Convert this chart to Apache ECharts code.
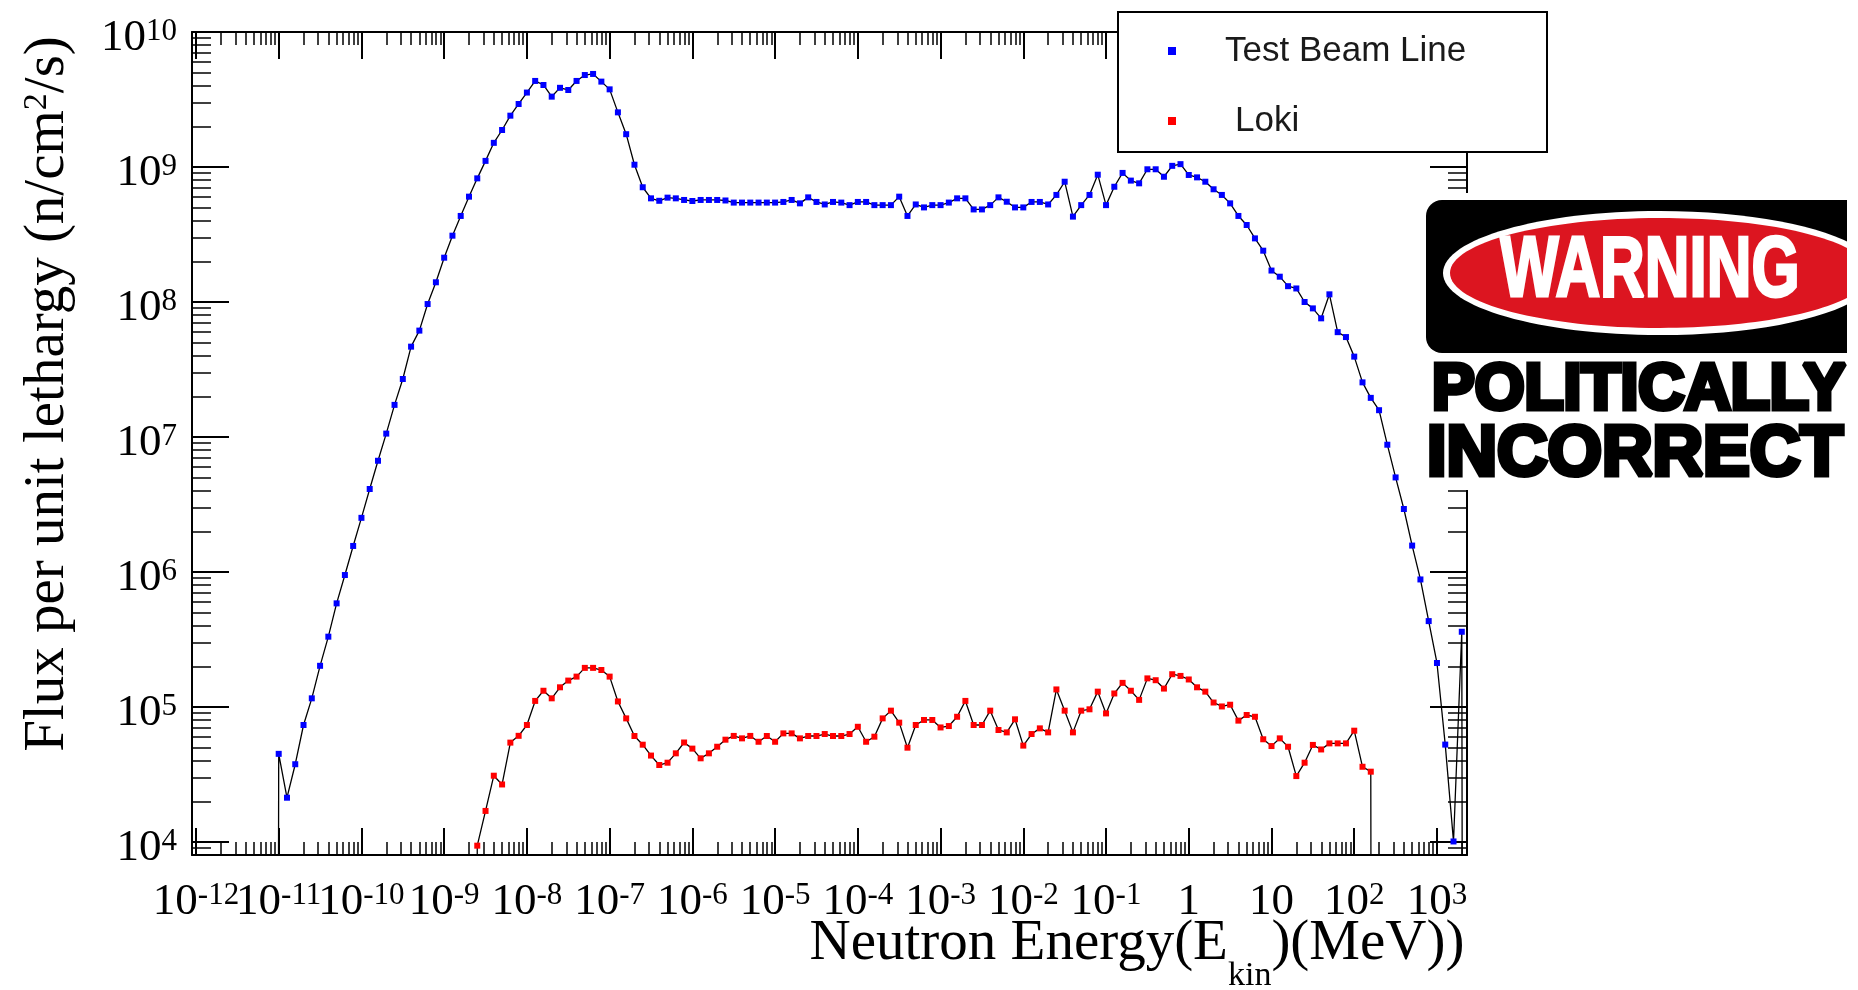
<!DOCTYPE html>
<html>
<head>
<meta charset="utf-8">
<title>Neutron flux per unit lethargy</title>
<script src="https://cdn.jsdelivr.net/npm/echarts@6/dist/echarts.min.js"></script>
<style>
  html, body { margin: 0; padding: 0; background: #ffffff; }
  #chart { width: 1858px; height: 990px; }
</style>
</head>
<body>
<div id="chart"></div>
<script>
// Energy bins as log10(E / MeV), a tenth of a decade apart
const energyExponents = [
  -11.1, -11.0, -10.9, -10.8, -10.7, -10.6, -10.5, -10.4, -10.3, -10.2,
  -10.1, -10.0, -9.9, -9.8, -9.7, -9.6, -9.5, -9.4, -9.3, -9.2,
  -9.1, -9.0, -8.9, -8.8, -8.7, -8.6, -8.5, -8.4, -8.3, -8.2,
  -8.1, -8.0, -7.9, -7.8, -7.7, -7.6, -7.5, -7.4, -7.3, -7.2,
  -7.1, -7.0, -6.9, -6.8, -6.7, -6.6, -6.5, -6.4, -6.3, -6.2,
  -6.1, -6.0, -5.9, -5.8, -5.7, -5.6, -5.5, -5.4, -5.3, -5.2,
  -5.1, -5.0, -4.9, -4.8, -4.7, -4.6, -4.5, -4.4, -4.3, -4.2,
  -4.1, -4.0, -3.9, -3.8, -3.7, -3.6, -3.5, -3.4, -3.3, -3.2,
  -3.1, -3.0, -2.9, -2.8, -2.7, -2.6, -2.5, -2.4, -2.3, -2.2,
  -2.1, -2.0, -1.9, -1.8, -1.7, -1.6, -1.5, -1.4, -1.3, -1.2,
  -1.1, -1.0, -0.9, -0.8, -0.7, -0.6, -0.5, -0.4, -0.3, -0.2,
  -0.1, 0.0, 0.1, 0.2, 0.3, 0.4, 0.5, 0.6, 0.7, 0.8,
  0.9, 1.0, 1.1, 1.2, 1.3, 1.4, 1.5, 1.6, 1.7, 1.8,
  1.9, 2.0, 2.1, 2.2, 2.3, 2.4, 2.5, 2.6, 2.7, 2.8,
  2.9, 3.0, 3.1, 3.2, 3.3, 3.4
];

// Flux per unit lethargy (n/cm^2/s); 0 = empty bin, null = not scored
const testBeamFlux = [
  0, 4.5e4, 2.13e4, 3.77e4, 7.36e4, 1.16e5, 2.02e5, 3.32e5, 5.86e5, 9.5e5,
  1.56e6, 2.52e6, 4.12e6, 6.67e6, 1.06e7, 1.73e7, 2.69e7, 4.67e7, 6.14e7, 9.66e7,
  1.40e8, 2.13e8, 3.10e8, 4.34e8, 6.03e8, 8.24e8, 1.11e9, 1.51e9, 1.88e9, 2.40e9,
  2.93e9, 3.56e9, 4.34e9, 4.05e9, 3.32e9, 3.86e9, 3.72e9, 4.34e9, 4.80e9, 4.89e9,
  4.29e9, 3.76e9, 2.54e9, 1.75e9, 1.04e9, 7.08e8, 5.86e8, 5.62e8, 5.93e8, 5.86e8,
  5.70e8, 5.60e8, 5.70e8, 5.70e8, 5.70e8, 5.65e8, 5.45e8, 5.45e8, 5.45e8, 5.45e8,
  5.45e8, 5.45e8, 5.51e8, 5.70e8, 5.38e8, 5.96e8, 5.51e8, 5.28e8, 5.51e8, 5.45e8,
  5.22e8, 5.51e8, 5.51e8, 5.22e8, 5.22e8, 5.22e8, 6.03e8, 4.34e8, 5.28e8, 5.02e8,
  5.22e8, 5.22e8, 5.45e8, 5.86e8, 5.86e8, 4.85e8, 4.85e8, 5.22e8, 5.96e8, 5.53e8,
  5.02e8, 5.02e8, 5.51e8, 5.51e8, 5.28e8, 6.21e8, 7.78e8, 4.29e8, 5.22e8, 6.21e8,
  8.77e8, 5.22e8, 7.14e8, 9.04e8, 7.93e8, 7.57e8, 9.62e8, 9.62e8, 8.47e8, 1.02e9,
  1.05e9, 8.73e8, 8.38e8, 7.78e8, 6.84e8, 6.21e8, 5.38e8, 4.34e8, 3.72e8, 2.96e8,
  2.40e8, 1.71e8, 1.54e8, 1.31e8, 1.26e8, 1.00e8, 8.97e7, 7.57e7, 1.14e8, 5.98e7,
  5.50e7, 3.94e7, 2.54e7, 1.95e7, 1.58e7, 8.77e6, 5.02e6, 2.93e6, 1.57e6, 8.81e5,
  4.33e5, 2.12e5, 5.27e4, 1.01e4, 3.61e5, 0
];

const lokiFlux = [
  null, null, null, null, null, null, null, null, null, null,
  null, null, null, null, null, null, null, null, null, null,
  null, null, null, null, 0, 9.4e3, 1.70e4, 3.10e4, 2.67e4, 5.45e4,
  6.12e4, 7.36e4, 1.11e5, 1.32e5, 1.16e5, 1.40e5, 1.57e5, 1.68e5, 1.95e5, 1.95e5,
  1.88e5, 1.68e5, 1.10e5, 8.24e4, 6.10e4, 5.26e4, 4.37e4, 3.72e4, 3.87e4, 4.54e4,
  5.46e4, 4.92e4, 4.17e4, 4.54e4, 5.08e4, 5.73e4, 6.11e4, 5.86e4, 6.11e4, 5.53e4,
  6.10e4, 5.53e4, 6.38e4, 6.38e4, 5.86e4, 6.10e4, 6.10e4, 6.31e4, 6.10e4, 6.10e4,
  6.31e4, 7.14e4, 5.53e4, 6.03e4, 8.24e4, 9.40e4, 7.66e4, 5.00e4, 7.36e4, 8.02e4,
  8.02e4, 7.06e4, 7.23e4, 8.47e4, 1.11e5, 7.36e4, 7.36e4, 9.40e4, 6.76e4, 6.49e4,
  8.11e4, 5.18e4, 6.31e4, 6.95e4, 6.49e4, 1.35e5, 9.40e4, 6.49e4, 9.40e4, 9.62e4,
  1.30e5, 8.97e4, 1.26e5, 1.51e5, 1.32e5, 1.13e5, 1.63e5, 1.58e5, 1.37e5, 1.75e5,
  1.70e5, 1.60e5, 1.40e5, 1.30e5, 1.08e5, 1.01e5, 1.04e5, 7.93e4, 8.73e4, 8.47e4,
  5.77e4, 5.14e4, 5.86e4, 5.08e4, 3.08e4, 3.87e4, 5.24e4, 4.85e4, 5.38e4, 5.38e4,
  5.38e4, 6.68e4, 3.61e4, 3.32e4, 0, null, null, null, null, null,
  null, null, null, null, null, null
];

// Decade tick positions
const xMajorTicks = [1e-12, 1e-11, 1e-10, 1e-9, 1e-8, 1e-7, 1e-6, 1e-5, 1e-4, 1e-3, 1e-2, 1e-1, 1, 10, 100, 1000];
const yMajorTicks = [1e4, 1e5, 1e6, 1e7, 1e8, 1e9, 1e10];

// Axis ranges
const X_MIN = Math.pow(10, -12.048);
const X_MAX = Math.pow(10, 3.363);
const Y_MIN = Math.pow(10, 3.904);
const Y_MAX = 1e10;

// Empty bins are pushed far below the axis so the line drops off the frame
const LOG_FLOOR = 1e-30;

function minorTicks(fromExp, toExp, lo, hi) {
  const out = [];
  for (let n = fromExp; n <= toExp; n++) {
    for (let k = 2; k <= 9; k++) {
      const v = k * Math.pow(10, n);
      if (v > lo && v < hi) out.push(v);
    }
  }
  return out;
}
const xMinorTicks = minorTicks(-13, 3, X_MIN, X_MAX);
const yMinorTicks = minorTicks(3, 9, Y_MIN, Y_MAX);

// The decade labels touch each other, so they are split over two
// overlapping bottom axes (even and odd exponents) to keep all of them.
function exponentOf(v) { return Math.round(Math.log10(v)); }
const xLabelsEven = xMajorTicks.filter(function (v) { return exponentOf(v) % 2 === 0; });
const xLabelsOdd = xMajorTicks.filter(function (v) { return exponentOf(v) % 2 !== 0; });

function toPairs(values) {
  const out = [];
  energyExponents.forEach(function (ex, i) {
    const v = values[i];
    if (v === null || v === undefined) return;
    out.push([Math.pow(10, ex), v > 0 ? v : LOG_FLOOR]);
  });
  return out;
}

function powerLabel(value) {
  const e = exponentOf(value);
  if (e === 0) return '{b|1}';
  if (e === 1) return '{b|10}';
  return '{b|10}{s|' + e + '}';
}

const SERIF = 'Liberation Serif';
const SANS = 'Liberation Sans';
const tickRich = {
  b: { fontFamily: SERIF, fontSize: 45, lineHeight: 45, color: '#000', verticalAlign: 'bottom' },
  s: { fontFamily: SERIF, fontSize: 31, lineHeight: 20, color: '#000', verticalAlign: 'top' }
};

function frameAxis(kind, position, ticks, len, width, withLine) {
  const isX = kind === 'x';
  return {
    type: 'log',
    logBase: 10,
    position: position,
    min: isX ? X_MIN : Y_MIN,
    max: isX ? X_MAX : Y_MAX,
    axisLine: { show: withLine, onZero: false, lineStyle: { color: '#000', width: 2 } },
    axisTick: { show: true, inside: true, length: len, customValues: ticks, lineStyle: { color: '#000', width: width } },
    axisLabel: { show: false },
    splitLine: { show: false },
    minorTick: { show: false },
    minorSplitLine: { show: false },
    axisPointer: { show: false },
    silent: true
  };
}

function bottomLabels(values) {
  return {
    show: true,
    customValues: values,
    formatter: powerLabel,
    margin: 25,
    hideOverlap: false,
    showMinLabel: true,
    showMaxLabel: true,
    rich: tickRich,
    color: '#000'
  };
}

// Bottom axis: frame line, decade ticks, even labels and the title
const xMain = frameAxis('x', 'bottom', xMajorTicks, 27, 2, true);
xMain.axisLabel = bottomLabels(xLabelsEven);
xMain.name = '{m|Neutron Energy(E}{sub|kin}{m|)(MeV))}';
xMain.nameLocation = 'middle';
xMain.nameGap = 61;
xMain.nameMoveOverlap = false;
xMain.nameTextStyle = {
  fontFamily: SERIF, fontSize: 57, color: '#000',
  padding: [0, 0, 0, 615],
  rich: {
    m: { fontFamily: SERIF, fontSize: 57, lineHeight: 57, verticalAlign: 'top', color: '#000' },
    sub: { fontFamily: SERIF, fontSize: 34, lineHeight: 120, verticalAlign: 'middle', color: '#000' }
  }
};

// Bottom axis: minor ticks and odd labels
const xMinor = frameAxis('x', 'bottom', xMinorTicks, 13, 1.5, false);
xMinor.axisLabel = bottomLabels(xLabelsOdd);

// Left axis carrying the labels and the title
const yMain = frameAxis('y', 'left', yMajorTicks, 37, 2, true);
yMain.axisLabel = {
  show: true,
  customValues: yMajorTicks,
  formatter: powerLabel,
  margin: 15,
  hideOverlap: false,
  showMinLabel: true,
  showMaxLabel: true,
  padding: [13, 0, 0, 0],
  rich: tickRich,
  color: '#000'
};
yMain.name = 'Flux per unit lethargy (n/cm{sup|2}/s)';
yMain.nameLocation = 'middle';
yMain.nameRotate = 90;
yMain.nameGap = 115;
yMain.nameMoveOverlap = false;
yMain.nameTextStyle = {
  fontFamily: SERIF, fontSize: 57, lineHeight: 57, color: '#000',
  padding: [0, 0, 0, 99],
  rich: {
    sup: { fontFamily: SERIF, fontSize: 34, lineHeight: 57, verticalAlign: 'top', color: '#000' }
  }
};

const option = {
  animation: false,
  backgroundColor: '#ffffff',
  grid: {
    left: 192, top: 32, width: 1275, height: 823,
    containLabel: false, outerBoundsMode: 'none', show: false
  },
  xAxis: [
    xMain,
    xMinor,
    frameAxis('x', 'top', xMajorTicks, 27, 2, true),
    frameAxis('x', 'top', xMinorTicks, 13, 1.5, false)
  ],
  yAxis: [
    yMain,
    frameAxis('y', 'left', yMinorTicks, 19, 1.5, false),
    frameAxis('y', 'right', yMajorTicks, 37, 2, true),
    frameAxis('y', 'right', yMinorTicks, 19, 1.5, false)
  ],
  legend: {
    orient: 'vertical',
    left: 1168,
    top: 31,
    padding: 0,
    itemWidth: 8,
    itemHeight: 8,
    itemGap: 30,
    icon: 'rect',
    selectedMode: false,
    z: 20,
    textStyle: { fontFamily: SANS, fontSize: 35, lineHeight: 40, color: '#1a1a1a', padding: [0, 0, 0, 44] },
    data: [
      { name: 'Test Beam Line', itemStyle: { color: '#0000ff' } },
      { name: 'Loki', itemStyle: { color: '#ff0000' }, textStyle: { padding: [0, 0, 0, 54] } }
    ]
  },
  series: [
    {
      name: 'Test Beam Line',
      type: 'line',
      xAxisIndex: 0,
      yAxisIndex: 0,
      data: toPairs(testBeamFlux),
      color: '#0000ff',
      symbol: 'rect',
      symbolSize: 6,
      showSymbol: true,
      showAllSymbol: true,
      clip: true,
      lineStyle: { color: '#000000', width: 1.3 },
      itemStyle: { color: '#0000ff' },
      emphasis: { disabled: true },
      z: 3
    },
    {
      name: 'Loki',
      type: 'line',
      xAxisIndex: 0,
      yAxisIndex: 0,
      data: toPairs(lokiFlux),
      color: '#ff0000',
      symbol: 'rect',
      symbolSize: 6,
      showSymbol: true,
      showAllSymbol: true,
      clip: true,
      lineStyle: { color: '#000000', width: 1.3 },
      itemStyle: { color: '#ff0000' },
      emphasis: { disabled: true },
      z: 3
    }
  ],
  graphic: [
    // legend frame
    { type: 'rect', z: 10, silent: true,
      shape: { x: 1118, y: 12, width: 429, height: 140 },
      style: { fill: '#ffffff', stroke: '#000000', lineWidth: 2 } },
    // warning sign
    { type: 'rect', z: 30, silent: true,
      shape: { x: 1420, y: 193, width: 438, height: 297 },
      style: { fill: '#ffffff' } },
    { type: 'rect', z: 31, silent: true,
      shape: { x: 1426, y: 200, width: 421, height: 153, r: [16, 0, 0, 16] },
      style: { fill: '#000000' } },
    { type: 'ellipse', z: 32, silent: true,
      shape: { cx: 1660, cy: 273, rx: 217, ry: 62 },
      style: { fill: '#ffffff' } },
    { type: 'ellipse', z: 33, silent: true,
      shape: { cx: 1660, cy: 273, rx: 210, ry: 55 },
      style: { fill: '#dc1520' } },
    { type: 'rect', z: 34, silent: true,
      shape: { x: 1847, y: 193, width: 11, height: 297 },
      style: { fill: '#ffffff' } },
    { type: 'text', z: 35, silent: true, x: 1650, y: 272, scaleX: 0.72,
      style: { text: 'WARNING', font: 'bold 86px "Liberation Sans"', fill: '#ffffff',
               stroke: '#ffffff', lineWidth: 3,
               textAlign: 'center', textVerticalAlign: 'middle' } },
    { type: 'text', z: 35, silent: true, x: 1432, y: 391,
      style: { text: 'POLITICALLY', font: 'bold 64px "Liberation Sans"', fill: '#000000',
               stroke: '#000000', lineWidth: 5, textAlign: 'left', textVerticalAlign: 'middle' } },
    { type: 'text', z: 35, silent: true, x: 1427, y: 456,
      style: { text: 'INCORRECT', font: 'bold 70px "Liberation Sans"', fill: '#000000',
               stroke: '#000000', lineWidth: 5, textAlign: 'left', textVerticalAlign: 'middle' } }
  ]
};

const chart = echarts.init(document.getElementById('chart'), null, { renderer: 'canvas' });
chart.setOption(option);
</script>
</body>
</html>
